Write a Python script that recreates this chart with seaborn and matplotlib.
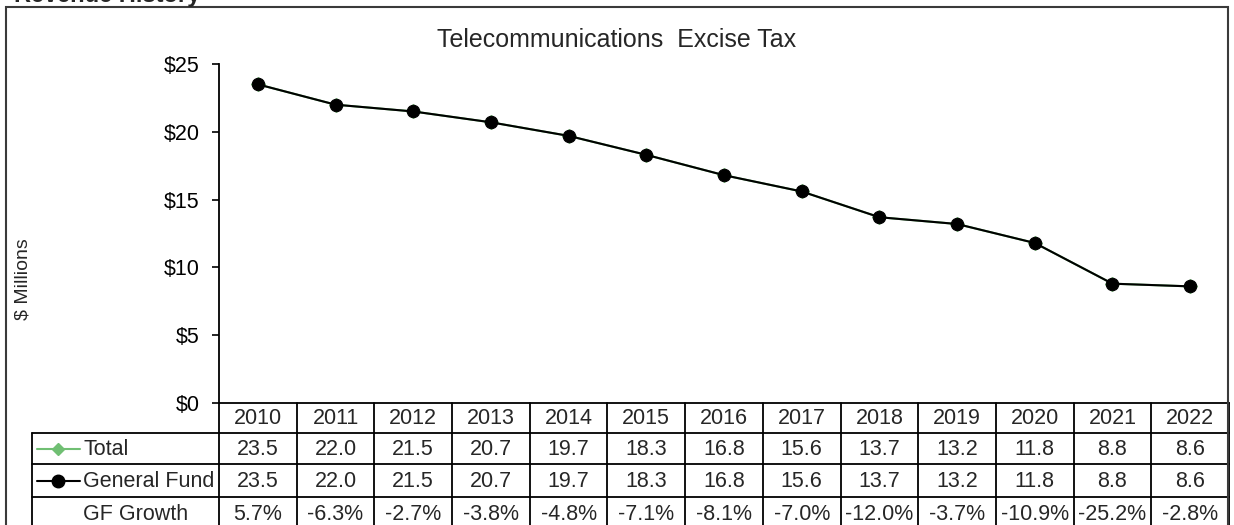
import numpy as np
import pandas as pd
import seaborn as sns
import matplotlib.pyplot as plt
from matplotlib.patches import Rectangle
from matplotlib.lines import Line2D

# data
years = [2010, 2011, 2012, 2013, 2014, 2015, 2016, 2017, 2018, 2019, 2020, 2021, 2022]
total = [23.5, 22.0, 21.5, 20.7, 19.7, 18.3, 16.8, 15.6, 13.7, 13.2, 11.8, 8.8, 8.6]
general_fund = [23.5, 22.0, 21.5, 20.7, 19.7, 18.3, 16.8, 15.6, 13.7, 13.2, 11.8, 8.8, 8.6]
gf_growth = [5.7, -6.3, -2.7, -3.8, -4.8, -7.1, -8.1, -7.0, -12.0, -3.7, -10.9, -25.2, -2.8]
yticks = [0, 5, 10, 15, 20, 25]

sns.set_theme(style="white")
plt.rcParams['font.family'] = ['Liberation Sans', 'DejaVu Sans']

W, H = 1234, 525
green = "#70BF73"
fs = 15.5

def fx(px):
	return px / W

def fy(py):
	return 1 - py / H

df = pd.DataFrame({"year": years, "Total": total, "General Fund": general_fund})

fig = plt.figure(figsize=(W / 100, H / 100), dpi=100)

# chart area
x0, x1, ytop, ybot = 219, 1229, 64, 403
ax = fig.add_axes([fx(x0), fy(ybot), fx(x1) - fx(x0), fy(ytop) - fy(ybot)])
sns.lineplot(data=df, x="year", y="Total", ax=ax, color=green, lw=1.5,
	marker="D", markersize=7, markeredgecolor=green, legend=False)
sns.lineplot(data=df, x="year", y="General Fund", ax=ax, color="black", lw=1.5,
	marker="o", markersize=9, markeredgecolor="black", legend=False)
ax.set_xlim(years[0] - 0.5, years[-1] + 0.5)
ax.set_ylim(0, 25)
ax.set_yticks(yticks)
ax.set_yticklabels(["$%d" % v for v in yticks], fontsize=fs)
ax.set_xticks([])
ax.set_xlabel("")
ax.set_ylabel("")
ax.tick_params(axis="y", left=True, length=5, width=1.2, pad=9, colors="black")
for s in ["top", "right"]:
	ax.spines[s].set_visible(False)
for s in ["left", "bottom"]:
	ax.spines[s].set_color("black")
	ax.spines[s].set_linewidth(1.3)
ax.patch.set_alpha(0)

# data table under the chart
col_w = (x1 - x0) / len(years)
lab_left = 32
rows = [403, 433, 464, 497, 530]
tab = fig.add_axes([fx(lab_left), fy(rows[-1]), fx(x1) - fx(lab_left), fy(rows[0]) - fy(rows[-1])])
tab.set_xlim(years[0] - 0.5 - (x0 - lab_left) / col_w, years[-1] + 0.5)
tab.set_ylim(rows[-1], rows[0])
tab.axis("off")
xl = years[0] - 0.5 - (x0 - lab_left) / col_w
for k in range(len(years) + 1):
	tab.plot([years[0] - 0.5 + k] * 2, [rows[0], rows[-1]], color="black", lw=1.3, clip_on=False)
tab.plot([xl, xl], [rows[1], rows[-1]], color="black", lw=1.3, clip_on=False)
for r in rows[1:4]:
	tab.plot([xl, years[-1] + 0.5], [r, r], color="black", lw=1.3, clip_on=False)

mid = [(rows[i] + rows[i + 1]) / 2 + 1 for i in range(4)]
for i, yr in enumerate(years):
	tab.text(yr, mid[0], str(yr), ha="center", va="center", fontsize=fs)
	tab.text(yr, mid[1], "%.1f" % total[i], ha="center", va="center", fontsize=fs)
	tab.text(yr, mid[2], "%.1f" % general_fund[i], ha="center", va="center", fontsize=fs)
	tab.text(yr, mid[3], "%.1f%%" % gf_growth[i], ha="center", va="center", fontsize=fs)

lx = lambda px: xl + (px - lab_left) / col_w
tab.add_line(Line2D([lx(37), lx(80)], [mid[1] - 1] * 2, color=green, lw=1.5))
tab.add_line(Line2D([lx(58)], [mid[1] - 1], color=green, marker="D", markersize=6, lw=0))
tab.add_line(Line2D([lx(37), lx(80)], [mid[2] - 1] * 2, color="black", lw=1.5))
tab.add_line(Line2D([lx(58)], [mid[2] - 1], color="black", marker="o", markersize=9, lw=0))
tab.text(lx(83), mid[1], "Total", ha="left", va="center", fontsize=fs)
tab.text(lx(83), mid[2], "General Fund", ha="left", va="center", fontsize=fs)
tab.text(lx(83), mid[3], "GF Growth", ha="left", va="center", fontsize=fs)

# titles, frame
fig.text(fx(617), fy(40), "Telecommunications  Excise Tax", ha="center", va="center", fontsize=18)
fig.text(fx(23), fy(279), "$ Millions", rotation=90, ha="center", va="center", fontsize=14)
fig.text(fx(200), fy(2), "Revenue History", ha="right", va="baseline", fontsize=17, fontweight="bold")
fig.patches.append(Rectangle((fx(6), fy(540)), fx(1228) - fx(6), fy(7) - fy(540), fill=False,
	edgecolor="#3a3a3a", lw=1.5, transform=fig.transFigure, clip_on=False))

plt.savefig("out.png", dpi=100)
